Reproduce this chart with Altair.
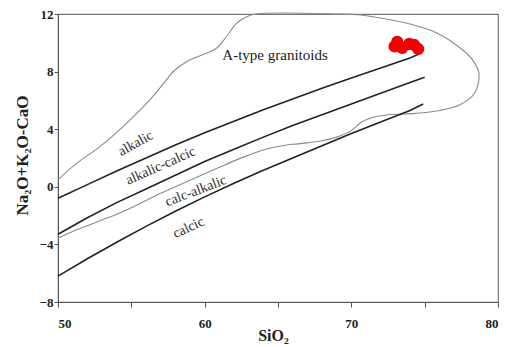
import altair as alt
import pandas as pd

# Boundary lines (SiO2 vs Na2O+K2O-CaO)
ac_x = [50, 52, 54, 56, 58, 60, 62, 64, 66, 68, 70, 72, 74, 74.8]
ac_y = [-0.8, 0.15, 1.1, 2.0, 2.9, 3.75, 4.55, 5.35, 6.1, 6.85, 7.55, 8.25, 8.95, 9.3]

ca_x = [50, 52, 54, 56, 58, 60, 62, 64, 66, 68, 70, 72, 74, 75]
ca_y = [-3.3, -2.15, -1.1, -0.15, 0.8, 1.75, 2.6, 3.45, 4.25, 5.0, 5.75, 6.5, 7.25, 7.6]

cc_x = [50, 52, 54, 56, 58, 60, 62, 64, 66, 68, 70, 72, 74, 74.9]
cc_y = [-6.2, -5.0, -3.85, -2.75, -1.7, -0.7, 0.25, 1.15, 2.0, 2.85, 3.7, 4.5, 5.3, 5.75]

# A-type granitoid field outline (ordered)
at_x = [50, 51, 52, 53, 54, 55, 56, 57, 58, 59, 60, 61, 62, 63, 64, 65, 66, 67, 68, 69,
        70, 70.7, 71.4, 72.5, 74.4, 76, 77.4, 78.4, 78.7, 78.2, 77.6, 75.8, 74, 72.1,
        70.5, 69.2, 63.5, 62.84, 62.16, 61.48, 60.8, 60.1, 58.76, 57.84, 57.39, 56.26,
        54.67, 52.86, 51.27, 50]
at_y = [-3.55, -3.1, -2.7, -2.3, -1.9, -1.45, -0.95, -0.45, 0.0, 0.45, 0.9, 1.35, 1.8,
        2.2, 2.55, 2.8, 2.95, 3.05, 3.2, 3.45, 3.9, 4.5, 4.8, 5.0, 5.1, 5.3, 5.7, 6.5, 7.9,
        8.9, 9.5, 10.7, 11.3, 11.7, 11.95, 12.0, 12.0, 11.8, 11.35, 10.42, 9.62, 9.27,
        8.69, 7.99, 7.42, 6.03, 4.41, 2.79, 1.63, 0.5]

# Samples
s_x = [73.13, 73.47, 72.95, 73.95, 74.29, 74.56]
s_y = [10.06, 9.64, 9.75, 9.92, 9.85, 9.57]

# Field labels
lab_text = ["alkalic", "alkalic-calcic", "calc-alkalic", "calcic"]
lab_x = [55.3, 57.0, 59.4, 58.9]
lab_y = [3.0, 1.45, -0.3, -2.85]
lab_angle = [331, 336, 339, 335]

FONT = "Liberation Serif"

lines = pd.concat([
    pd.DataFrame({"x": ac_x, "y": ac_y, "g": "ac", "o": range(len(ac_x))}),
    pd.DataFrame({"x": ca_x, "y": ca_y, "g": "ca", "o": range(len(ca_x))}),
    pd.DataFrame({"x": cc_x, "y": cc_y, "g": "cc", "o": range(len(cc_x))}),
])
field = pd.DataFrame({"x": at_x, "y": at_y, "o": range(len(at_x))})
samples = pd.DataFrame({"x": s_x, "y": s_y})
labels = pd.DataFrame({"t": lab_text, "x": lab_x, "y": lab_y, "a": lab_angle})
atype = pd.DataFrame({"t": ["A-type granitoids"], "x": [64.8], "y": [9.15]})

xs = alt.Scale(domain=[50, 80], nice=False, zero=False)
ys = alt.Scale(domain=[-8, 12], nice=False, zero=False)

xax = alt.Axis(values=[50, 55, 60, 65, 70, 75, 80],
               labelExpr="datum.value % 10 == 0 ? datum.label : ''",
               title="SiO₂", grid=False, tickSize=5, labelPadding=10,
               labelFont=FONT, labelFontSize=13, labelFontWeight="bold",
               titleFont=FONT, titleFontSize=16, titleFontWeight="bold",
               titleX=215, titleY=38, titleBaseline="alphabetic",
               domainColor="#555", tickColor="#555", labelColor="#222", titleColor="#222")
yax = alt.Axis(values=[-8, -4, 0, 4, 8, 12], title="Na₂O+K₂O-CaO", grid=False,
               tickSize=4, labelPadding=1,
               labelFont=FONT, labelFontSize=13, labelFontWeight="bold",
               titleFont=FONT, titleFontSize=17, titleFontWeight="bold",
               titleX=-36, titleY=141, titleAngle=270, titleBaseline="middle",
               domainColor="#555", tickColor="#555", labelColor="#222", titleColor="#222")

field_l = alt.Chart(field).mark_line(color="#8a8a8a", strokeWidth=1.1,
                                     interpolate="catmull-rom").encode(
    x=alt.X("x:Q", scale=xs, axis=xax),
    y=alt.Y("y:Q", scale=ys, axis=yax),
    order="o:Q")

lines_l = alt.Chart(lines).mark_line(color="#222", strokeWidth=1.6).encode(
    x=alt.X("x:Q", scale=xs), y=alt.Y("y:Q", scale=ys),
    detail="g:N", order="o:Q")

pts = alt.Chart(samples).mark_circle(color="#f00000", size=150, opacity=1).encode(
    x=alt.X("x:Q", scale=xs), y=alt.Y("y:Q", scale=ys))

lab = alt.Chart(labels).mark_text(font=FONT, fontSize=14, color="#2a2a2a").encode(
    x=alt.X("x:Q", scale=xs), y=alt.Y("y:Q", scale=ys), text="t:N",
    angle=alt.Angle("a:Q", scale=None))

at = alt.Chart(atype).mark_text(font=FONT, fontSize=15, color="#222").encode(
    x=alt.X("x:Q", scale=xs), y=alt.Y("y:Q", scale=ys), text="t:N")

chart = alt.layer(field_l, lines_l, pts, lab, at).properties(
    width=440, height=288,
    autosize=alt.AutoSizeParams(type="none"),
    padding={"left": 58, "top": 14, "right": 9, "bottom": 45},
).configure_view(stroke="#777", strokeWidth=1.2)

chart.save("out.html", embed_options={"renderer": "svg", "actions": False})
